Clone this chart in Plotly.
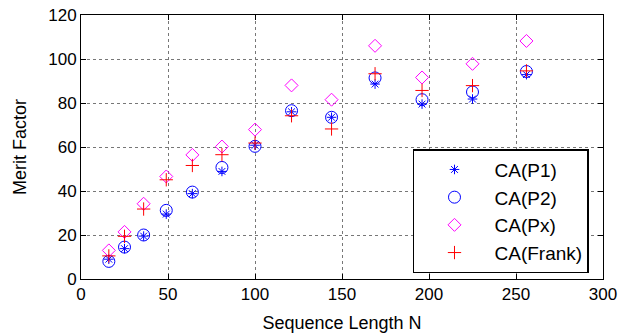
import plotly.graph_objects as go

N = [16, 25, 36, 49, 64, 81, 100, 121, 144, 169, 196, 225, 256]
ca_p1 = [9.0, 13.8, 19.5, 29.5, 38.8, 48.9, 60.8, 76.0, 73.5, 88.6, 79.5, 81.8, 92.9]
ca_p2 = [8.0, 14.5, 20.0, 31.2, 39.5, 50.7, 60.3, 76.5, 73.5, 91.4, 81.5, 85.0, 94.3]
ca_px = [13.0, 21.4, 34.2, 46.6, 56.4, 60.2, 67.9, 88.0, 81.5, 106.0, 91.6, 97.8, 108.2]
ca_frank = [10.5, 19.4, 31.8, 45.1, 51.6, 56.5, 61.8, 74.2, 68.2, 93.3, 85.7, 87.9, 94.6]

series = [
    ("CA(P1)", ca_p1, "asterisk-open", "#0000FF", 8),
    ("CA(P2)", ca_p2, "circle-open", "#0000FF", 12),
    ("CA(Px)", ca_px, "diamond-open", "#FF00FF", 10),
    ("CA(Frank)", ca_frank, "cross-thin-open", "#FF0000", 9.5),
]

fig = go.Figure()
for i, (name, vals, sym, col, sz) in enumerate(series):
    fig.add_trace(go.Scatter(
        x=N, y=vals, mode="markers", name=name, legendgroup=f"g{i}",
        marker=dict(symbol=sym, size=sz, color=col, line=dict(color=col, width=1)),
    ))

font = "Arial, Liberation Sans, sans-serif"
axis_common = dict(
    showline=True, linecolor="black", linewidth=1, mirror="allticks",
    ticks="inside", ticklen=5, tickcolor="black",
    showgrid=True, gridcolor="#777777", griddash="dot", gridwidth=1,
    zeroline=False, tickfont=dict(size=17, color="black", family=font),
    automargin=False,
)
fig.update_layout(
    width=621, height=334,
    margin=dict(l=81, r=18, t=15, b=55),
    paper_bgcolor="white", plot_bgcolor="white",
    font=dict(family=font, size=17, color="black"),
    xaxis=dict(range=[0, 300], dtick=50, title=dict(text="Sequence Length N", standoff=12,
               font=dict(size=18)), **axis_common),
    yaxis=dict(range=[0, 120], dtick=20, title=dict(text="Merit Factor", standoff=16,
               font=dict(size=18)), **axis_common),
    legend=dict(x=0.636, y=0.492, xanchor="left", yanchor="top",
                bordercolor="black", borderwidth=1.5, bgcolor="white",
                font=dict(size=19), tracegroupgap=0, itemwidth=70),
)

fig.write_html("out.html")
